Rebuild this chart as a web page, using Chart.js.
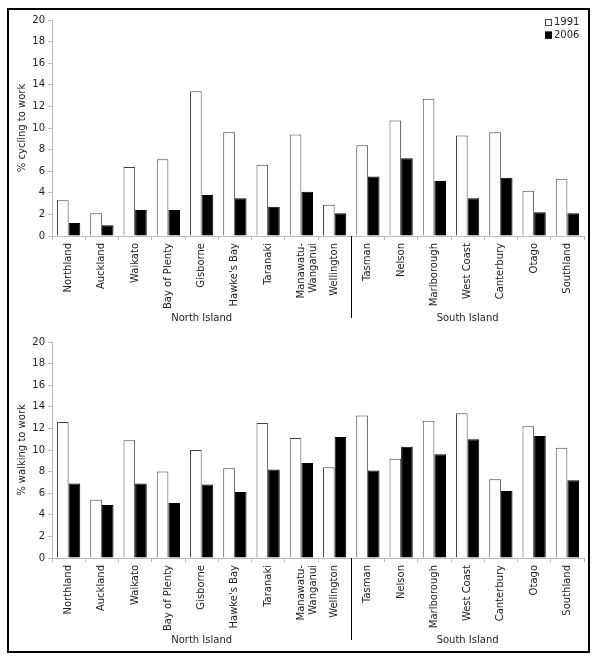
<!DOCTYPE html>
<html>
<head>
<meta charset="utf-8">
<script src="https://cdn.jsdelivr.net/npm/chart.js@4"></script>
<style>
  body { margin: 0; background: #fff; }
  #frame { position: absolute; left: 7px; top: 8px; width: 583px; height: 645px; border: 2px solid #000; box-sizing: border-box; }
  canvas { position: absolute; left: 0; }
  #cycling { top: 0; }
  #walking { top: 322px; }
</style>
</head>
<body>
<div id="frame"></div>
<canvas id="cycling" width="600" height="330"></canvas>
<canvas id="walking" width="600" height="330"></canvas>
<script>
var regions = ['Northland', 'Auckland', 'Waikato', 'Bay of Plenty', 'Gisborne', "Hawke's Bay", 'Taranaki',
  ['Manawatu-', 'Wanganui'], 'Wellington', 'Tasman', 'Nelson', 'Marlborough', 'West Coast', 'Canterbury', 'Otago', 'Southland']
var islands = [{name: 'North Island', from: 0, to: 8}, {name: 'South Island', from: 9, to: 15}]
var years = ['1991', '2006']

// % cycling to work
var cycling1991 = [3.3, 2.1, 6.4, 7.1, 13.4, 9.6, 6.6, 9.4, 2.9, 8.4, 10.7, 12.7, 9.3, 9.6, 4.2, 5.3]
var cycling2006 = [1.2, 1.0, 2.4, 2.4, 3.8, 3.5, 2.7, 4.1, 2.1, 5.5, 7.2, 5.1, 3.5, 5.4, 2.2, 2.1]
// % walking to work
var walking1991 = [12.6, 5.4, 10.9, 8.0, 10.0, 8.3, 12.5, 11.1, 8.4, 13.2, 9.2, 12.7, 13.4, 7.3, 12.2, 10.2]
var walking2006 = [6.9, 4.9, 6.9, 5.1, 6.8, 6.1, 8.2, 8.8, 11.2, 8.1, 10.3, 9.6, 11.0, 6.2, 11.3, 7.2]

var yTicks = [0, 2, 4, 6, 8, 10, 12, 14, 16, 18, 20]

var FONT = 'DejaVu Sans'
Chart.defaults.font.family = FONT
Chart.defaults.font.size = 10
Chart.defaults.color = '#222'

var islandsPlugin = {
  id: 'islands',
  afterDraw: function(chart) {
    var ctx = chart.ctx
    var x = chart.scales.x
    var area = chart.chartArea
    ctx.save()
    // separator between the two islands
    var sep = (x.getPixelForValue(islands[0].to) + x.getPixelForValue(islands[1].from)) / 2
    ctx.strokeStyle = '#000'
    ctx.lineWidth = 1
    ctx.beginPath()
    ctx.moveTo(Math.round(sep) + 0.5, area.bottom)
    ctx.lineTo(Math.round(sep) + 0.5, area.bottom + 82)
    ctx.stroke()
    ctx.fillStyle = '#222'
    ctx.font = '10px ' + FONT
    ctx.textAlign = 'center'
    ctx.textBaseline = 'middle'
    islands.forEach(function(isl) {
      var cx = (x.getPixelForValue(isl.from) + x.getPixelForValue(isl.to)) / 2
      ctx.fillText(isl.name, cx, area.bottom + 82)
    })
    // legend
    if (chart.options.plugins.islands && chart.options.plugins.islands.legend) {
      chart.data.datasets.forEach(function(ds, i) {
        var y = area.top + 2.5 + i * 12.6
        var bx = area.right - 39
        ctx.fillStyle = ds.backgroundColor
        ctx.fillRect(bx, y - 3.5, 7, 7)
        ctx.strokeStyle = ds.borderColor
        ctx.strokeRect(bx + 0.5, y - 3, 6, 6)
        ctx.fillStyle = '#222'
        ctx.textAlign = 'left'
        ctx.fillText(ds.label, bx + 9, y)
      })
    }
    ctx.restore()
  }
}

function makeChart(id, title, a, b, legend) {
  return new Chart(document.getElementById(id), {
    type: 'bar',
    data: {
      labels: regions,
      datasets: [
        { label: years[0], data: a, backgroundColor: '#fff', borderColor: '#444', borderWidth: 1 },
        { label: years[1], data: b, backgroundColor: '#000', borderColor: '#000', borderWidth: 1 }
      ]
    },
    options: {
      responsive: false,
      animation: false,
      categoryPercentage: 0.7,
      barPercentage: 1.0,
      layout: { padding: { left: 0, right: 16, top: 20, bottom: 0 } },
      plugins: {
        legend: { display: false },
        tooltip: { enabled: false },
        islands: { legend: legend }
      },
      scales: {
        x: {
          afterFit: function(s) { s.height = 94 },
          grid: { drawOnChartArea: false, tickLength: 4, color: '#bbb' },
          border: { color: '#bbb' },
          ticks: { minRotation: 90, maxRotation: 90, autoSkip: false, padding: 3 }
        },
        y: {
          min: 0, max: 20,
          afterFit: function(s) { s.width = 52 },
          afterBuildTicks: function(s) { s.ticks = yTicks.map(function(v) { return { value: v } }) },
          grid: { drawOnChartArea: false, tickLength: 4, color: '#bbb' },
          border: { color: '#bbb' },
          ticks: { padding: 3 },
          title: { display: true, text: title, padding: { top: 16 } }
        }
      }
    },
    plugins: [islandsPlugin]
  })
}

makeChart('cycling', '% cycling to work', cycling1991, cycling2006, true)
makeChart('walking', '% walking to work', walking1991, walking2006, false)
</script>
</body>
</html>
